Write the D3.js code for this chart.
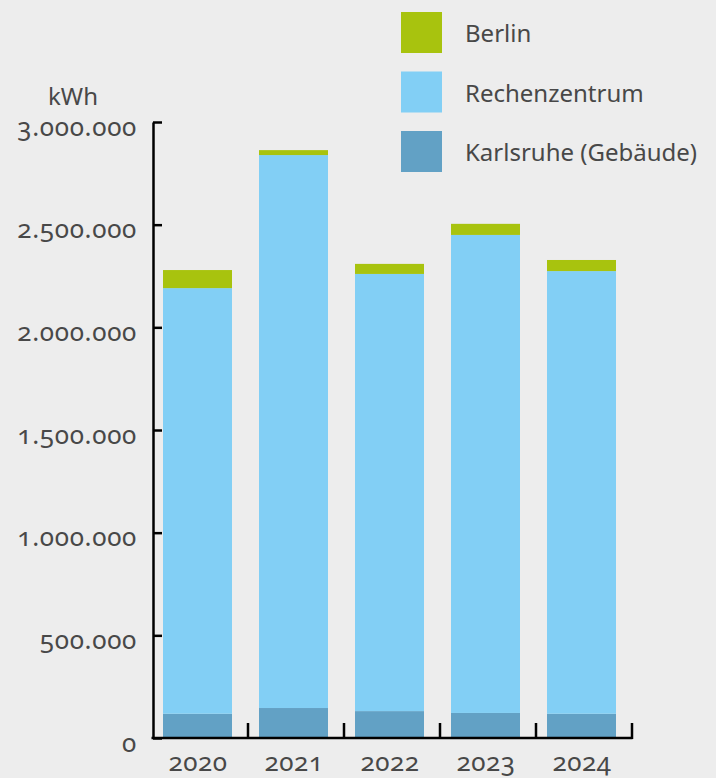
<!DOCTYPE html>
<html>
<head>
<meta charset="utf-8">
<script src="https://cdn.jsdelivr.net/npm/d3@7"></script>
<style>
  html, body { margin: 0; padding: 0; background: #ededed; }
  svg { display: block; }
  text { font-family: "Noto Sans", sans-serif; fill: #484848; font-variant-numeric: oldstyle-nums; font-feature-settings: "onum" 1; }
</style>
</head>
<body>
<div id="chart"></div>
<script>
// years and series values (kWh)
let years = ["2020", "2021", "2022", "2023", "2024"];
let karlsruhe = [118000, 146000, 131000, 122000, 118000];
let rechenzentrum = [2073000, 2693000, 2129000, 2328000, 2156000];
let berlin = [88000, 24000, 49000, 54000, 54000];
let yTicks = [0, 500000, 1000000, 1500000, 2000000, 2500000, 3000000];

let seriesNames = ["Karlsruhe (Gebäude)", "Rechenzentrum", "Berlin"];
let seriesColors = ["#62a1c5", "#82cff5", "#a8c30e"];

let svgWidth = 716;
let svgHeight = 778;

let svg = d3.select("#chart")
  .append("svg")
  .attr("width", svgWidth)
  .attr("height", svgHeight);

// table for the stack layout
let table = years.map((y, i) => ({
  year: y,
  "Karlsruhe (Gebäude)": karlsruhe[i],
  "Rechenzentrum": rechenzentrum[i],
  "Berlin": berlin[i]
}));

let stacked = d3.stack().keys(seriesNames)(table);

let xScale = d3.scaleBand()
  .domain(years)
  .range([152, 632]);

let yScale = d3.scaleLinear()
  .domain([0, 3000000])
  .range([738, 122]);

let step = xScale.step();

// bars
svg.append("g")
  .selectAll("g")
  .data(stacked)
  .enter()
  .append("g")
  .attr("fill", (d, i) => seriesColors[i])
  .selectAll("rect")
  .data(d => d)
  .enter()
  .append("rect")
  .attr("x", d => xScale(d.data.year) + 11)
  .attr("width", 69)
  .attr("y", d => yScale(d[1]))
  .attr("height", d => yScale(d[0]) - yScale(d[1]));

// y axis, ticks pointing inward
let fmt = v => d3.format(",")(v).replace(/,/g, ".");

let leftAxis = d3.axisLeft(yScale)
  .tickValues(yTicks)
  .tickSizeInner(-9)
  .tickSizeOuter(0)
  .tickPadding(16)
  .tickFormat(fmt);

let yAxisG = svg.append("g")
  .attr("transform", "translate(153,0)")
  .call(leftAxis);

yAxisG.select(".domain").attr("stroke", "#000").attr("stroke-width", 2.5);
yAxisG.selectAll(".tick line").attr("stroke", "#000").attr("stroke-width", 2.5);
yAxisG.selectAll(".tick text")
  .attr("dy", "0.5em")
  .style("font-size", "26px")
  .style("letter-spacing", "0.7px")
  .style("fill", "#484848")
  .style("font-family", "\"Noto Sans\", sans-serif");

// x axis line + ticks at band boundaries
svg.append("line")
  .attr("x1", 151.5).attr("x2", 632.5)
  .attr("y1", 738).attr("y2", 738)
  .attr("stroke", "#000").attr("stroke-width", 2.5);

svg.append("g")
  .selectAll("line")
  .data(years)
  .enter()
  .append("line")
  .attr("x1", d => xScale(d) + step)
  .attr("x2", d => xScale(d) + step)
  .attr("y1", 723).attr("y2", 739)
  .attr("stroke", "#000").attr("stroke-width", 2.5);

svg.append("g")
  .selectAll("text")
  .data(years)
  .enter()
  .append("text")
  .attr("x", d => xScale(d) + step / 2 - 2)
  .attr("y", 771)
  .attr("text-anchor", "middle")
  .style("font-size", "26px")
  .style("letter-spacing", "0.5px")
  .text(d => d);

// unit label
svg.append("text")
  .attr("x", 48)
  .attr("y", 105)
  .style("font-size", "24px")
  .text("kWh");

// legend, Berlin on top
let legendOrder = [2, 1, 0];
let legend = svg.append("g")
  .selectAll("g")
  .data(legendOrder)
  .enter()
  .append("g")
  .attr("transform", (d, i) => `translate(401, ${12 + i * 59.5})`);

legend.append("rect")
  .attr("width", 41)
  .attr("height", 41)
  .attr("fill", d => seriesColors[d]);

legend.append("text")
  .attr("x", 64)
  .attr("y", 30)
  .style("font-size", "24px")
  .text(d => seriesNames[d]);
</script>
</body>
</html>
